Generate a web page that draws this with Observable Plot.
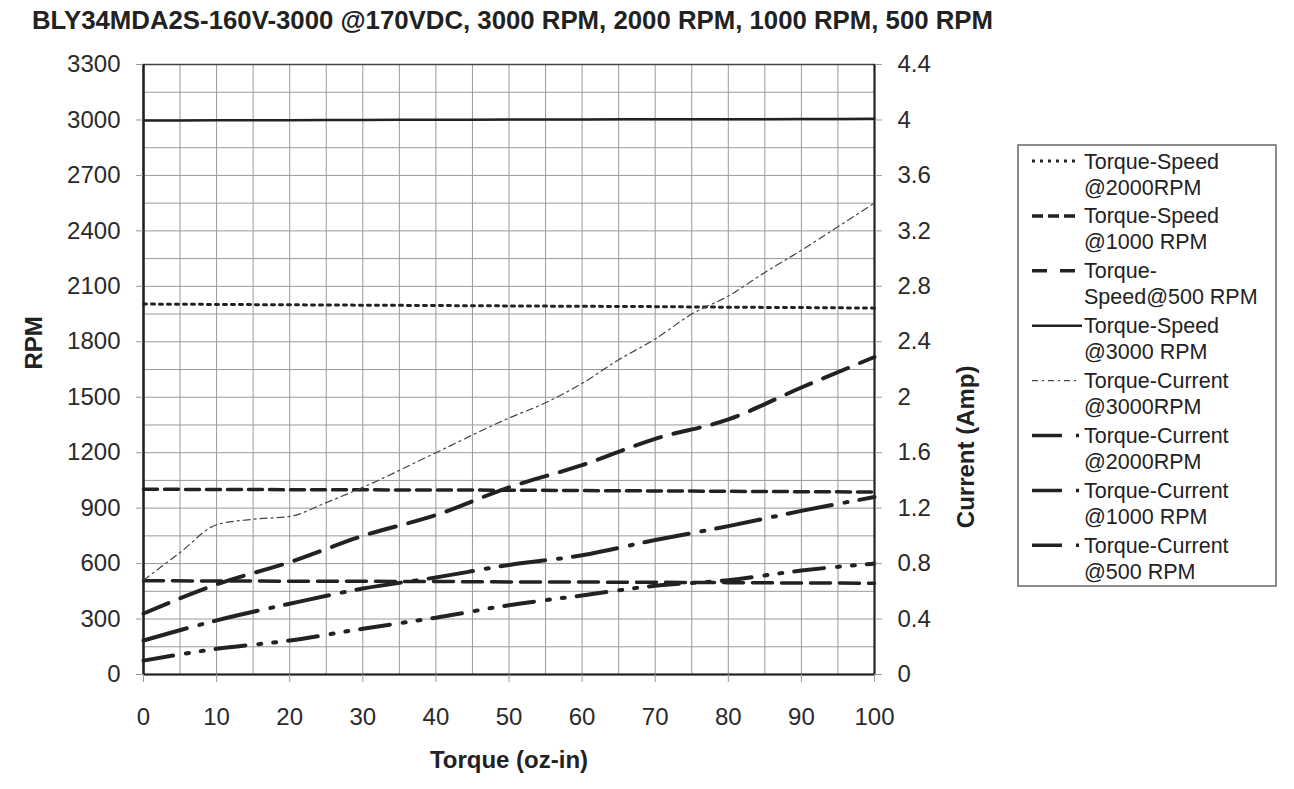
<!DOCTYPE html>
<html><head><meta charset="utf-8">
<script src="https://cdn.jsdelivr.net/npm/d3@7"></script>
<script src="https://cdn.jsdelivr.net/npm/@observablehq/plot@0.6"></script>
<style>
body{margin:0;background:#fff;}
#wrap{position:relative;width:1294px;height:789px;overflow:hidden;font-family:"Liberation Sans",Arial,sans-serif;color:#222;background:#fff;}
#title{position:absolute;left:32px;top:8px;font-weight:bold;font-size:25px;line-height:25px;white-space:nowrap;transform-origin:0 0;}
#chart{position:absolute;left:0;top:0;}
#legend{position:absolute;left:0;top:0;pointer-events:none;}
</style></head>
<body><div id="wrap"><div id="chart"></div><svg id="legend" width="1294" height="789"></svg><div id="title"></div></div>
<script>
// ---- data ----
const titleText = "BLY34MDA2S-160V-3000 @170VDC, 3000 RPM, 2000 RPM, 1000 RPM, 500 RPM";
const torque = [0,10,20,30,40,50,60,70,80,90,100];
const speed3000 = [2997,2998,2999,3000,3001,3002,3003,3004,3004,3005,3006];
const speed2000 = [2004,2002,2000,1998,1996,1994,1992,1990,1987,1985,1982];
const speed1000 = [1002,1001,1000,999,998,997,995,993,991,989,987];
const speed500  = [507,506,505,504,503,501,500,499,497,495,494];
const torqueC3000 = [0,5,10,15,20,25,30,40,50,55,60,65,70,75,80,85,90,95,100];
const current3000 = [0.68,0.88,1.08,1.12,1.14,1.24,1.35,1.6,1.85,1.96,2.1,2.27,2.42,2.6,2.73,2.9,3.06,3.23,3.4];
const current2000 = [0.44,0.65,0.81,1.0,1.15,1.35,1.51,1.70,1.84,2.07,2.29];
const current1000 = [0.245,0.39,0.51,0.62,0.70,0.79,0.86,0.97,1.07,1.18,1.28];
const current500  = [0.10,0.185,0.245,0.33,0.41,0.50,0.57,0.64,0.68,0.75,0.80];
const rpmTicks = [0,300,600,900,1200,1500,1800,2100,2400,2700,3000,3300];
const xTicks = [0,10,20,30,40,50,60,70,80,90,100];
const legendNames = [
  ["Torque-Speed","@2000RPM"],
  ["Torque-Speed","@1000 RPM"],
  ["Torque-","Speed@500 RPM"],
  ["Torque-Speed","@3000 RPM"],
  ["Torque-Current","@3000RPM"],
  ["Torque-Current","@2000RPM"],
  ["Torque-Current","@1000 RPM"],
  ["Torque-Current","@500 RPM"]
];
const RPM_MAX = 3300, AMP_MAX = 4.4;
const ampToRpm = RPM_MAX / AMP_MAX;

// ---- series table ----
const seriesDefs = [
  {key:"s2000", xs: torque, vs: speed2000, amp:false},
  {key:"s1000", xs: torque, vs: speed1000, amp:false},
  {key:"s500",  xs: torque, vs: speed500,  amp:false},
  {key:"s3000", xs: torque, vs: speed3000, amp:false},
  {key:"c3000", xs: torqueC3000, vs: current3000, amp:true},
  {key:"c2000", xs: torque, vs: current2000, amp:true},
  {key:"c1000", xs: torque, vs: current1000, amp:true},
  {key:"c500",  xs: torque, vs: current500,  amp:true}
];
const styles = {
  s2000:{w:3, dash:"3,5", stroke:"#222"},
  s1000:{w:3.5, dash:"14,7", stroke:"#222"},
  s500:{w:3.5, dash:"20,9", stroke:"#222"},
  s3000:{w:2.5, dash:null, stroke:"#222"},
  c3000:{w:1.2, dash:"7,4,2,4", stroke:"#444"},
  c2000:{w:4, dash:"27,13", stroke:"#222"},
  c1000:{w:4, dash:"45,13,3,12", stroke:"#222"},
  c500:{w:4, dash:"30,13,3,12,3,12", stroke:"#222"}
};
const legendStyles = {
  s2000:{dash:"3,5", x2:1075},
  s1000:{dash:"11,5", x2:1075},
  s500:{dash:"15,13", x2:1075},
  s3000:{dash:null, x2:1082},
  c3000:{dash:"6,4,2,4", x2:1078},
  c2000:{dash:"30,14,3,100", x2:1080},
  c1000:{dash:"30,14,3,100", x2:1080},
  c500:{dash:"30,14,3,100", x2:1080}
};

const rows = seriesDefs.flatMap(s => s.xs.map((t,i) => ({series:s.key, torque:t, y: s.amp ? s.vs[i]*ampToRpm : s.vs[i]})));

const lineMarks = seriesDefs.map(s => {
  const st = styles[s.key];
  const o = {x:"torque", y:"y", stroke:st.stroke, strokeWidth:st.w, curve:"monotone-x", strokeLinejoin:"round"};
  if (st.dash) o.strokeDasharray = st.dash;
  return Plot.line(rows.filter(r => r.series === s.key), o);
});

const W = 1000, H = 789;
const chart = Plot.plot({
  width: W, height: H,
  marginTop: 64, marginBottom: 115, marginLeft: 143, marginRight: 126,
  style: {fontFamily: '"Liberation Sans", Arial, sans-serif', fontSize: "24px", color: "#2a2a2a", background: "transparent"},
  x: {domain: [0,100], label: null},
  y: {domain: [0,RPM_MAX], label: null},
  marks: [
    Plot.gridX(d3.range(0,101,5), {stroke:"#9a9a9a", strokeOpacity:1, strokeWidth:1}),
    Plot.gridY(d3.range(0,RPM_MAX+1,150), {stroke:"#9a9a9a", strokeOpacity:1, strokeWidth:1}),
    Plot.frame({stroke:"#444", strokeWidth:1.5}),
    Plot.ruleX([0], {stroke:"#222", strokeWidth:2.5}),
    Plot.ruleX([100], {stroke:"#222", strokeWidth:2}),
    Plot.ruleY([0], {stroke:"#222", strokeWidth:2}),
    ...lineMarks,
    Plot.axisX({ticks: xTicks, tickSize: 8, tickPadding: 25, label: null, stroke:"#999", tickFormat: d => String(d)}),
    Plot.axisY({ticks: rpmTicks, tickSize: 7, tickPadding: 16, label: null, stroke:"#999", tickFormat: d => String(d)}),
    Plot.axisY({anchor:"right", ticks: rpmTicks, tickSize: 7, tickPadding: 16, label: null, stroke:"#999", tickFormat: d => String(+(d/ampToRpm).toFixed(1))}),
    Plot.text(["Torque (oz-in)"], {text: d => d, frameAnchor:"bottom", dy: 93, fontSize: 24, fontWeight:"bold", fill:"#222"}),
    Plot.text(["RPM"], {text: d => d, frameAnchor:"left", dx: -109, rotate: -90, fontSize: 24, fontWeight:"bold", fill:"#222"}),
    Plot.text(["Current (Amp)"], {text: d => d, frameAnchor:"right", dx: 92, dy: -4, rotate: -90, fontSize: 24, fontWeight:"bold", fill:"#222"})
  ]
});
document.getElementById("chart").appendChild(chart);

// ---- title ----
const titleEl = document.getElementById("title");
titleEl.textContent = titleText;
const tw = titleEl.getBoundingClientRect().width;
titleEl.style.transform = `scaleX(${961/tw})`;

// ---- legend ----
const lg = d3.select("#legend");
lg.append("rect").attr("x",1018).attr("y",145).attr("width",258).attr("height",441)
  .attr("fill","#fff").attr("stroke","#666").attr("stroke-width",1.5);
seriesDefs.forEach((s,i) => {
  const y1 = 161 + 54.9*i;
  const st = styles[s.key], ls = legendStyles[s.key];
  const ln = lg.append("line").attr("x1",1032).attr("x2",ls.x2).attr("y1",y1).attr("y2",y1)
    .attr("stroke",st.stroke).attr("stroke-width", Math.min(st.w,3.5));
  if (ls.dash) ln.attr("stroke-dasharray", ls.dash);
  const t = lg.append("text").attr("x",1084).attr("y",y1).attr("font-size",21.5)
    .attr("font-family",'"Liberation Sans", Arial, sans-serif').attr("fill","#222");
  t.append("tspan").attr("x",1084).attr("dy","0.35em").text(legendNames[i][0]);
  t.append("tspan").attr("x",1084).attr("dy",26).text(legendNames[i][1]);
});
</script>
</body></html>
